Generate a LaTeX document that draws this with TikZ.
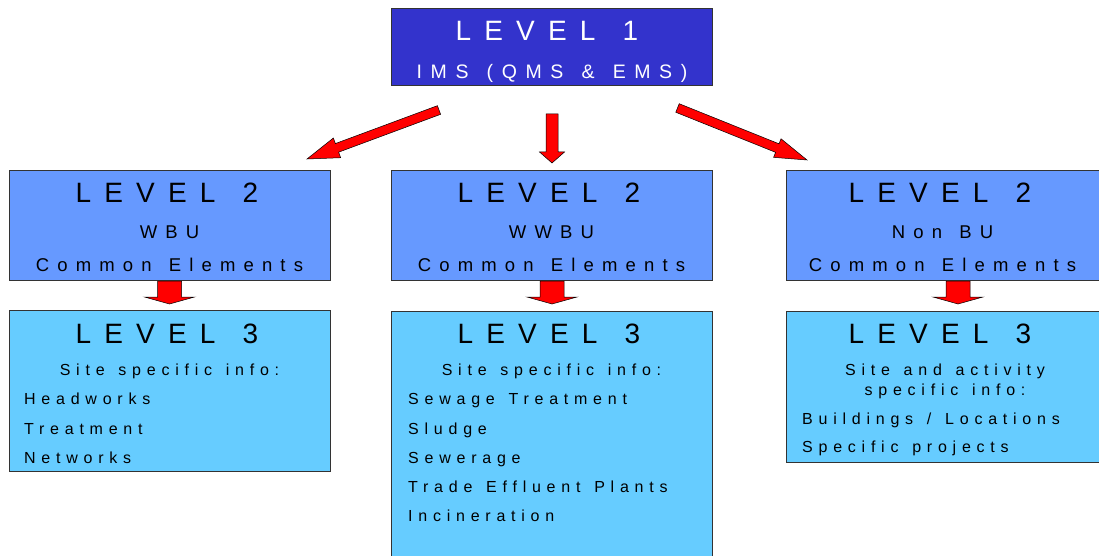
\documentclass[tikz,border=0pt]{standalone}
\usepackage{fontspec}
\setmainfont{Liberation Sans}
\newfontfamily\titlefont[LetterSpace=47,WordSpace=1.3]{Liberation Sans}
\newfontfamily\midfont[LetterSpace=44,WordSpace=1.3]{Liberation Sans}
\newfontfamily\itemfont[LetterSpace=36,WordSpace=1.35]{Liberation Sans}
\usetikzlibrary{calc}
\definecolor{lone}{HTML}{3333CC}
\definecolor{ltwo}{HTML}{6699FF}
\definecolor{lthree}{HTML}{66CCFF}
\definecolor{edge}{HTML}{333333}
\tikzset{
  box/.style={draw=edge, line width=0.8pt, rectangle, inner sep=0pt},
  ttl/.style={anchor=base, inner sep=0pt, font=\titlefont\fontsize{28}{30}\selectfont},
  mid/.style={anchor=base, inner sep=0pt, font=\midfont\fontsize{18.5}{20}\selectfont},
  item/.style={anchor=base west, inner sep=0pt, font=\itemfont\fontsize{16}{18}\selectfont},
  barrow/.style={draw=black, line width=0.5pt, fill=red, line join=miter},
}
\newcommand\blockarr[5]{%
  \path ($(#2)!#5!(#1)$) coordinate (hb-#2);
  \draw[barrow] ($(#1)!#3!90:(#2)$) -- ($(hb-#2)!#3!90:(#2)$) -- ($(hb-#2)!#4!90:(#2)$) -- (#2)
     -- ($(hb-#2)!#4!-90:(#2)$) -- ($(hb-#2)!#3!-90:(#2)$) -- ($(#1)!#3!-90:(#2)$) -- cycle;}
\begin{document}
\begin{tikzpicture}[x=1pt,y=-1pt]
\useasboundingbox (0,0) rectangle (1099,556);
\clip (0,0) rectangle (1099,556);
% boxes
\node[box, fill=lone, minimum width=321pt, minimum height=77pt] (l1) at (551.5,46.5) {};
\node[box, fill=ltwo, minimum width=321pt, minimum height=110pt] (l2a) at (169.5,225) {};
\node[box, fill=ltwo, minimum width=321pt, minimum height=110pt] (l2b) at (551.5,225) {};
\node[box, fill=ltwo, minimum width=313pt, minimum height=110pt] (l2c) at (942.5,225) {};
\node[box, fill=lthree, minimum width=321pt, minimum height=161pt] (l3a) at (169.5,391) {};
\node[box, fill=lthree, minimum width=321pt, minimum height=250pt] (l3b) at (551.5,436) {};
\node[box, fill=lthree, minimum width=313pt, minimum height=151pt] (l3c) at (942.5,386.5) {};
% level 1 text
\node[ttl, text=white] (t1) at (547,41) {LEVEL 1};
\node[mid, text=white, font=\midfont\fontsize{19.5}{21}\selectfont] (t1b) at (552,78.3) {IMS (QMS \& EMS)};
% level 2 text
\node[ttl] (t2a) at (167,202.7) {LEVEL 2};
\node[mid] (t2aa) at (169.5,238.3) {WBU};
\node[mid] (t2ab) at (169.5,271.7) {Common Elements};
\node[ttl] (t2b) at (549,202.7) {LEVEL 2};
\node[mid] (t2ba) at (551.5,238.3) {WWBU};
\node[mid] (t2bb) at (551.5,271.7) {Common Elements};
\node[ttl] (t2c) at (940,202.7) {LEVEL 2};
\node[mid] (t2ca) at (942.5,238.3) {Non BU};
\node[mid] (t2cb) at (942.5,271.7) {Common Elements};
% level 3 text
\node[ttl] (t3a) at (167,343.3) {LEVEL 3};
\node[item, anchor=base] (s3a) at (169.5,375) {Site specific info:};
\node[item] (i3a1) at (24,404) {Headworks};
\node[item] (i3a2) at (24,434) {Treatment};
\node[item] (i3a3) at (24,463.3) {Networks};
\node[ttl] (t3b) at (549,343.3) {LEVEL 3};
\node[item, anchor=base] (s3b) at (551.5,375) {Site specific info:};
\node[item] (i3b1) at (408,404) {Sewage Treatment};
\node[item] (i3b2) at (408,434) {Sludge};
\node[item] (i3b3) at (408,463.3) {Sewerage};
\node[item] (i3b4) at (408,492.7) {Trade Effluent Plants};
\node[item] (i3b5) at (408,521.7) {Incineration};
\node[ttl] (t3c) at (940,343.3) {LEVEL 3};
\node[item, anchor=base] (s3c1) at (945,375.7) {Site and activity};
\node[item, anchor=base] (s3c2) at (945,395) {specific info:};
\node[item] (i3c1) at (802,424) {Buildings / Locations};
\node[item] (i3c2) at (802,452.7) {Specific projects};
% arrow ends
\coordinate (aLs) at (439,110);  \coordinate (aLe) at (307,159);
\coordinate (aMs) at (552,114);  \coordinate (aMe) at (552,163);
\coordinate (aRs) at (677.5,108); \coordinate (aRe) at (807,160);
\coordinate (bAs) at (169.5,281); \coordinate (bAe) at (169.5,304);
\coordinate (bBs) at (552,281);   \coordinate (bBe) at (552,304);
\coordinate (bCs) at (958,281);   \coordinate (bCe) at (958,304);
\blockarr{aLs}{aLe}{4.6pt}{10.5pt}{32pt}
\blockarr{aMs}{aMe}{6pt}{12.5pt}{11pt}
\blockarr{aRs}{aRe}{4.6pt}{10pt}{32pt}
\blockarr{bAs}{bAe}{12pt}{25pt}{7pt}
\blockarr{bBs}{bBe}{12pt}{25pt}{7pt}
\blockarr{bCs}{bCe}{12pt}{25pt}{7pt}
\end{tikzpicture}
\end{document}
